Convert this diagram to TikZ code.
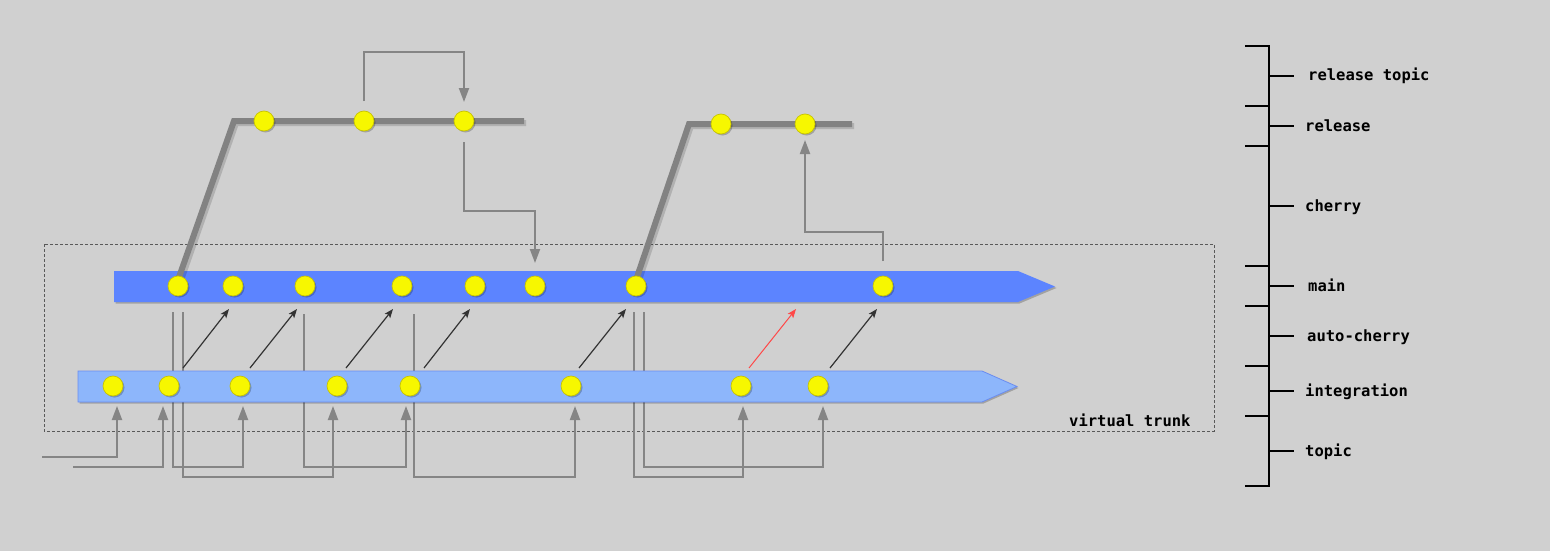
\documentclass[tikz,border=0pt]{standalone}
\usepackage{fontspec}
\newfontfamily\labelfont{DejaVu Sans Mono}[BoldFont={DejaVu Sans Mono Bold}]
\usetikzlibrary{arrows.meta,shadows}
\definecolor{bgc}{HTML}{D0D0D0}
\definecolor{mainc}{HTML}{5C84FF}
\definecolor{intc}{HTML}{8DB6FB}
\definecolor{intb}{HTML}{6A8CF0}
\definecolor{commitc}{HTML}{F7F700}
\definecolor{commitb}{HTML}{C8C400}
\definecolor{connc}{HTML}{858585}
\definecolor{relc}{HTML}{828282}
\definecolor{diagc}{HTML}{333333}
\definecolor{redc}{HTML}{FF4848}
\tikzset{
  softshadow/.style={drop shadow={shadow xshift=1.5pt,shadow yshift=-1.5pt,opacity=0.22,fill=black}},
  commit/.style={circle,minimum size=20pt,inner sep=0pt,fill=commitc,draw=commitb,line width=0.7pt,softshadow},
  conn/.style={draw=connc,line width=2pt},
  connarrow/.style={conn,-{Triangle[width=10pt,length=14pt]}},
  diag/.style={draw=diagc,line width=1.2pt,-{Stealth[width=7pt,length=9pt,inset=2pt]}},
  reddiag/.style={draw=redc,line width=1pt,-{Stealth[width=7pt,length=9pt,inset=2pt]}},
  relline/.style={draw=relc,line width=6pt,line join=miter},
  relshadow/.style={draw=black,opacity=0.15,line width=6pt,line join=miter},
  scaleline/.style={draw=black,line width=2pt},
  lbl/.style={inner sep=0pt,anchor=base west,font=\labelfont\bfseries\fontsize{15.5}{18}\selectfont,text=black}
}
\begin{document}
\begin{tikzpicture}[x=1pt,y=-1pt]
\fill[bgc] (0,0) rectangle (1550,551);
\useasboundingbox (0,0) rectangle (1550,551);

% virtual trunk frame
\draw[draw=black!65,line width=0.8pt,dash pattern=on 3pt off 2pt] (44,244) rectangle (1214,431);
\node[lbl] (vt) at (1069,426) {virtual trunk};

% gray connectors (behind bars)
\draw[connarrow] (42,457) -- (117,457) -- (117,406);
\draw[connarrow] (73,467) -- (163,467) -- (163,406);
\draw[connarrow] (173,312) -- (173,467) -- (243,467) -- (243,406);
\draw[connarrow] (183,312) -- (183,477) -- (333,477) -- (333,406);
\draw[connarrow] (304,314) -- (304,467) -- (406,467) -- (406,406);
\draw[connarrow] (414,314) -- (414,477) -- (575,477) -- (575,406);
\draw[connarrow] (634,312) -- (634,477) -- (743,477) -- (743,406);
\draw[connarrow] (644,312) -- (644,467) -- (823,467) -- (823,406);

% release connectors
\draw[connarrow] (364,101) -- (364,52) -- (464,52) -- (464,102);
\draw[connarrow] (464,142) -- (464,211) -- (535,211) -- (535,263);
\draw[connarrow] (883,261) -- (883,232) -- (805,232) -- (805,140);

% bars
\fill[mainc,softshadow] (114,271) -- (1018,271) -- (1055,286.5) -- (1018,302) -- (114,302) -- cycle;
\filldraw[fill=intc,draw=intb,line width=0.8pt,softshadow] (78,371) -- (982,371) -- (1017,386.5) -- (982,402) -- (78,402) -- cycle;

% release branches
\draw[relshadow] (180,283) -- (236,123) -- (526,123);
\draw[relline] (178,280) -- (234,121) -- (524,121);
\draw[relshadow] (638,283) -- (691,126) -- (854,126);
\draw[relline] (636,280) -- (689,124) -- (852,124);

% main commits
\foreach \n/\x in {m1/178,m2/233,m3/305,m4/402,m5/475,m6/535,m7/636,m8/883}
  \node[commit] (\n) at (\x,286) {};
% integration commits
\foreach \n/\x in {i1/113,i2/169,i3/240,i4/337,i5/410,i6/571,i7/741,i8/818}
  \node[commit] (\n) at (\x,386) {};
% release commits
\node[commit] (r1) at (264,121) {};
\node[commit] (r2) at (364,121) {};
\node[commit] (r3) at (464,121) {};
\node[commit] (s1) at (721,124) {};
\node[commit] (s2) at (805,124) {};

% auto-cherry arrows
\draw[diag] (183,368) -- (229,309);
\draw[diag] (250,368) -- (297,309);
\draw[diag] (346,368) -- (393,309);
\draw[diag] (424,368) -- (470,309);
\draw[diag] (579,368) -- (626,309);
\draw[reddiag] (749,368) -- (796,309);
\draw[diag] (830,368) -- (877,309);

% scale
\draw[scaleline] (1245,46) -- (1269,46) -- (1269,486) -- (1245,486);
\foreach \y in {106,146,266,306,366,416}
  \draw[scaleline] (1245,\y) -- (1269,\y);
\foreach \y in {76,126,206,286,336,391,451}
  \draw[scaleline] (1269,\y) -- (1294,\y);
\node[lbl] (l1) at (1308,81) {release topic};
\node[lbl] (l2) at (1305,131) {release};
\node[lbl] (l3) at (1305,211) {cherry};
\node[lbl] (l4) at (1308,291) {main};
\node[lbl] (l5) at (1307,341) {auto-cherry};
\node[lbl] (l6) at (1305,396) {integration};
\node[lbl] (l7) at (1305,456) {topic};
\end{tikzpicture}
\end{document}
